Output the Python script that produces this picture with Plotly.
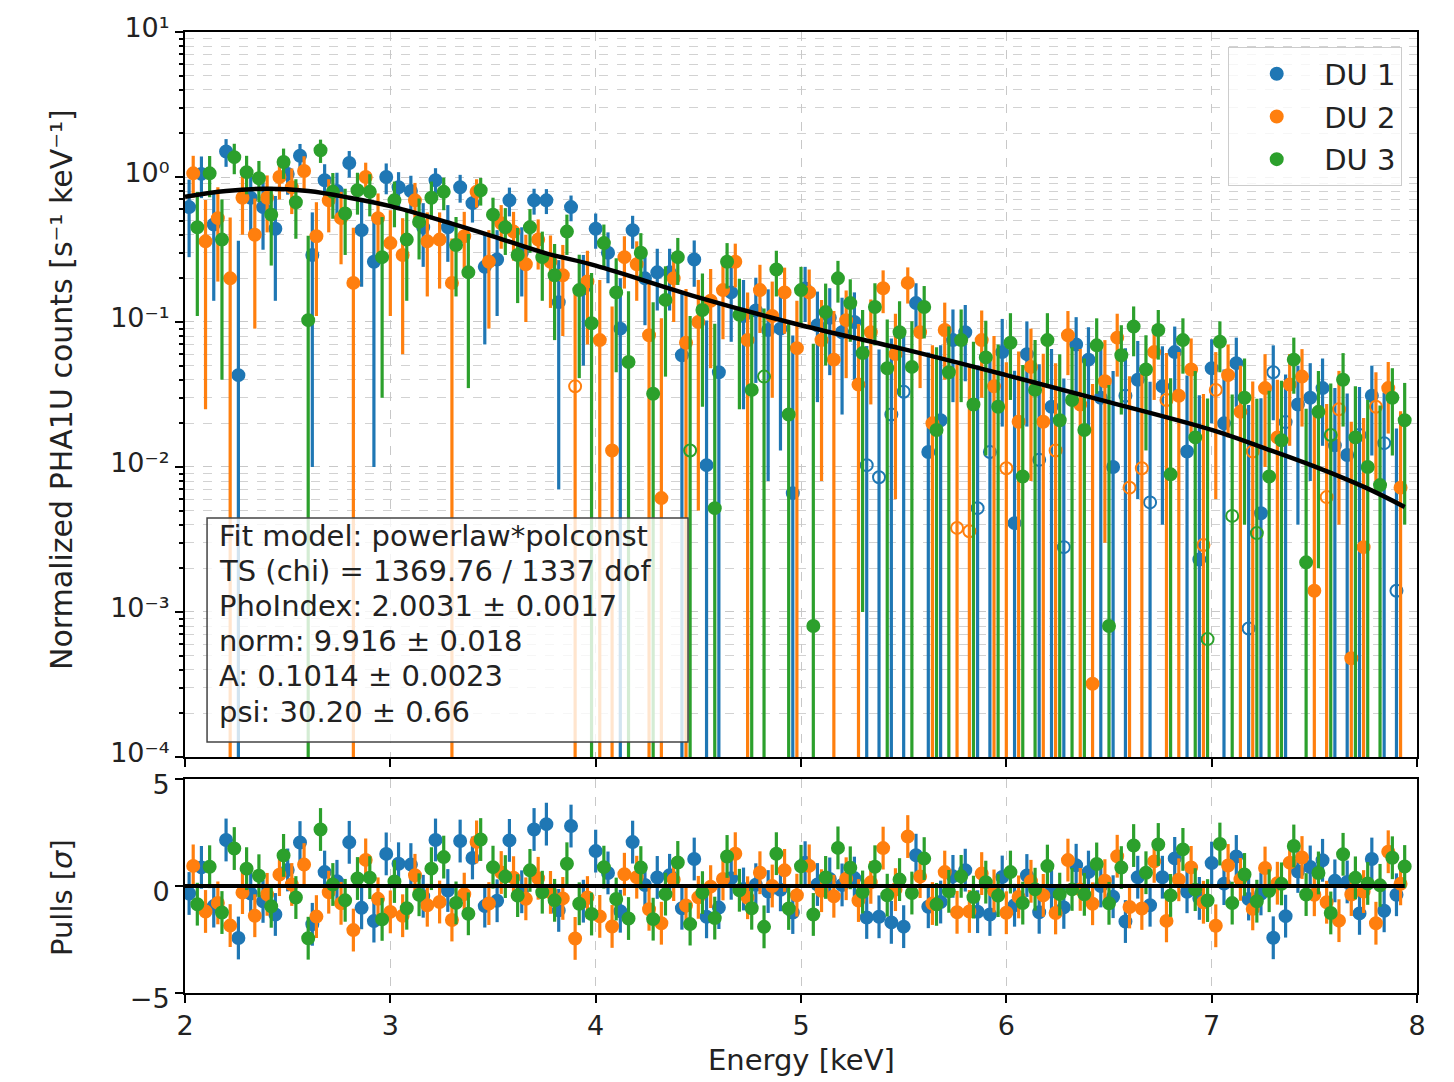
import numpy as np
import plotly.graph_objects as go

# ---------------- data ----------------
n_bins = 99
energy_du1 = np.round(2.02 + 0.06 * np.arange(n_bins), 2)
energy_du2 = np.round(2.04 + 0.06 * np.arange(n_bins), 2)
energy_du3 = np.round(2.06 + 0.06 * np.arange(n_bins), 2)

# normalized PHA1U rates (negative values are drawn as open circles at |value|)
rate_du1 = [
    0.62, 1.05, 0.47, 1.5, 0.043, 0.72, 0.62, 0.44, 1.05, 1.4,
    0.29, 0.95, 0.8, 1.25, 0.43, 0.26, 1.0, 0.85, 0.8, 0.45,
    0.95, 0.45, 0.85, 0.66, 0.24, 0.27, 0.69, 0.30, 0.69, 0.69,
    0.137, 0.62, 0.17, 0.44, 0.30, 0.09, 0.43, 0.20, 0.22, 0.22,
    0.059, 0.27, 0.0103, 0.045, 0.16, 0.11, 0.12, 0.088, 0.09, 0.0066,
    0.17, 0.095, 0.107, 0.085, 0.10, -0.0103, -0.0085, -0.023, -0.033, 0.135,
    0.0127, 0.021, 0.075, 0.085, -0.0052, -0.0127, 0.062, 0.0041, 0.06, -0.0112,
    0.026, -0.0028, 0.07, 0.055, 0.03, 0.010, -0.031, 0.04, -0.0057, 0.036,
    0.062, 0.0128, 0.0023, 0.048, 0.02, 0.052, -0.00077, 0.0048, -0.045, -0.0204,
    0.027, 0.03, 0.035, 0.0141, 0.0121, -0.0166, 0.031, -0.0146, -0.0014]

rate_du2 = [
    1.06, 0.36, 0.52, 0.2, 0.72, 0.4, 0.72, 1.0, 0.85, 1.1,
    0.39, 0.69, 0.52, 0.186, 1.0, 0.52, 0.35, 0.29, 0.69, 0.36,
    0.37, 0.186, 0.39, 0.79, 0.26, 0.48, 0.42, 0.25, 0.37, 0.26,
    0.21, -0.036, 0.19, 0.075, 0.013, 0.28, 0.25, 0.081, 0.0061, 0.2,
    0.072, 0.1, 0.14, 0.166, 0.26, 0.075, 0.166, 0.11, 0.16, 0.066,
    0.16, 0.075, 0.055, 0.103, 0.037, 0.085, 0.171, 0.06, 0.186, 0.085,
    0.02, 0.088, -0.0038, -0.0036, 0.075, 0.036, -0.0098, 0.0205, 0.049, 0.0205,
    -0.013, 0.081, 0.027, 0.00032, 0.039, 0.078, -0.0072, -0.0098, 0.062, -0.029,
    0.031, 0.047, -0.0029, -0.034, 0.043, 0.024, -0.0128, 0.035, 0.016, 0.037,
    0.042, 0.0014, -0.0062, -0.025, 0.00048, 0.0028, -0.026, 0.035, 0.0072]

rate_du3 = [
    0.45, 1.06, 0.37, 1.37, 1.08, 0.98, 0.55, 1.27, 0.67, 0.103,
    1.53, 0.79, 0.56, 0.81, 0.79, 0.28, 0.69, 0.37, 0.49, 0.72,
    0.79, 0.34, 0.22, 0.81, 0.55, 0.45, 0.29, 0.45, 0.28, 0.21,
    0.42, 0.166, 0.098, 0.35, 0.16, 0.053, 0.3, 0.032, 0.142, 0.28,
    -0.013, 0.121, 0.0052, 0.26, 0.112, 0.034, -0.042, 0.23, 0.023, 0.166,
    0.0008, 0.117, 0.2, 0.135, 0.061, 0.127, 0.048, 0.085, 0.049, 0.127,
    0.018, 0.045, 0.075, 0.027, 0.057, 0.026, 0.072, 0.0086, 0.034, 0.075,
    0.021, 0.029, 0.018, 0.069, 0.0008, 0.059, 0.093, 0.047, 0.088, 0.0089,
    0.075, 0.016, -0.00065, 0.073, -0.0046, 0.03, -0.0035, 0.0086, 0.0153, 0.055,
    0.0022, 0.024, -0.0166, 0.04, 0.016, 0.01, 0.0075, 0.03, 0.021]

# 1-sigma uncertainty of the rate in each bin
rate_err = [
    0.34, 0.335, 0.33, 0.325, 0.32, 0.31, 0.305, 0.30, 0.295, 0.29,
    0.28, 0.275, 0.27, 0.26, 0.255, 0.25, 0.24, 0.23, 0.22, 0.21,
    0.20, 0.19, 0.185, 0.175, 0.17, 0.16, 0.155, 0.15, 0.14, 0.135,
    0.13, 0.125, 0.12, 0.12, 0.115, 0.11, 0.11, 0.105, 0.10, 0.10,
    0.097, 0.095, 0.092, 0.09, 0.087, 0.085, 0.082, 0.08, 0.077, 0.074,
    0.07, 0.067, 0.064, 0.062, 0.06, 0.058, 0.056, 0.054, 0.052, 0.05,
    0.049, 0.048, 0.047, 0.046, 0.045, 0.044, 0.043, 0.042, 0.041, 0.04,
    0.039, 0.038, 0.038, 0.037, 0.036, 0.036, 0.035, 0.034, 0.033, 0.032,
    0.031, 0.030, 0.029, 0.028, 0.027, 0.026, 0.026, 0.025, 0.024, 0.023,
    0.023, 0.022, 0.021, 0.021, 0.020, 0.019, 0.019, 0.018, 0.017]

pull_du1 = [
    -0.35, 0.87, -0.94, 2.15, -2.43, -0.35, -0.72, -1.33, 0.75, 2.03,
    -1.79, 0.65, 0.22, 2.04, -1.02, -1.64, 1.5, 1.04, 1.0, -0.48,
    2.15, -0.21, 2.1, 1.31, -0.94, -0.69, 2.13, -0.27, 2.64, 2.89,
    -1.14, 2.8, -0.71, 1.63, 0.61, -1.18, 2.05, 0.05, 0.4, 0.5,
    -1.04, 1.26, -1.44, -1.01, 0.36, -0.14, 0.06, -0.26, -0.18, -1.24,
    1.09, 0.07, 0.33, 0.05, 0.37, -1.47, -1.44, -1.7, -1.9, 1.44,
    -0.97, -0.75, 0.45, 0.74, -1.2, -1.33, 0.42, -0.9, 0.49, -1.23,
    -0.26, -1.0, 0.97, 0.65, 0.0, -0.5, -1.66, 0.41, -0.9, 0.41,
    1.29, -0.27, -0.58, 1.07, 0.11, 1.38, -0.61, -0.37, -2.42, -1.41,
    0.68, 0.89, 1.2, 0.24, 0.19, -1.28, 1.26, -1.16, -0.41]

pull_du2 = [
    0.94, -1.19, -0.79, -1.85, -0.31, -1.39, -0.39, 0.53, 0.07, 1.0,
    -1.43, -0.29, -0.81, -2.06, 1.22, -0.6, -1.21, -1.39, 0.5, -0.9,
    -0.75, -1.59, -0.38, 2.06, -0.82, 0.63, 0.39, -0.6, 0.36, -0.3,
    -0.58, -2.45, -0.54, -1.42, -1.89, 0.55, 0.41, -1.09, -1.74, 0.3,
    -0.91, -0.53, -0.03, 0.33, 1.51, -0.55, 0.62, 0.0, 0.73, -0.43,
    0.94, -0.22, -0.48, 0.34, -0.68, 0.17, 1.77, -0.17, 2.31, 0.44,
    -0.82, 0.65, -1.23, -1.19, 0.58, -0.23, -1.25, -0.51, 0.22, -0.44,
    -1.26, 1.21, -0.16, -0.83, 0.25, 1.39, -0.98, -1.05, 1.15, -1.63,
    0.29, 0.87, -0.76, -1.86, 0.96, 0.31, -1.07, 0.84, 0.13, 1.09,
    1.33, -0.41, -0.76, -1.62, -0.4, -0.26, -1.74, 1.6, 0.1]

pull_du3 = [
    -0.85, 0.9, -1.24, 1.75, 0.81, 0.48, -0.95, 1.43, -0.54, -2.44,
    2.64, 0.07, -0.67, 0.35, 0.39, -1.56, 0.21, -1.04, -0.41, 0.81,
    1.35, -0.79, -1.3, 2.17, 0.88, 0.44, -0.45, 0.73, -0.29, -0.67,
    1.04, -0.83, -1.31, 0.88, -0.61, -1.52, 0.86, -1.55, -0.38, 1.1,
    -1.78, -0.31, -1.5, 1.38, -0.2, -1.04, -1.91, 1.51, -1.05, 0.92,
    -1.33, 0.4, 1.78, 0.85, -0.28, 0.9, -0.43, 0.3, -0.33, 1.28,
    -0.86, -0.25, 0.45, -0.52, 0.18, -0.45, 0.65, -0.8, -0.15, 0.93,
    -0.38, -0.16, -0.39, 1.03, -0.81, 0.86, 1.89, 0.62, 1.94, -0.44,
    1.71, -0.17, -0.68, 1.96, -0.8, 0.54, -0.71, -0.22, 0.1, 1.87,
    -0.4, 0.61, -1.26, 1.48, 0.38, 0.12, 0.03, 1.32, 0.91]

pull_err = [1.0] * n_bins

# fitted model curve (powerlaw*polconst folded)
model_energy = [2.0, 2.2, 2.4, 2.6, 2.8, 3.0, 3.25, 3.5, 3.75, 4.0, 4.5,
                5.0, 5.5, 6.0, 6.5, 7.0, 7.25, 7.5, 7.75, 7.94]
model_rate = [0.73, 0.80, 0.83, 0.80, 0.72, 0.63, 0.50, 0.39, 0.30, 0.245, 0.148,
              0.095, 0.065, 0.043, 0.028, 0.018, 0.0136, 0.0101, 0.0072, 0.0053]
model_pull = [0.0] * len(model_energy)

series_names = ["DU 1", "DU 2", "DU 3"]
series_colors = ["#1f77b4", "#ff7f0e", "#2ca02c"]

fit_text = [
    "Fit model: powerlaw*polconst",
    "TS (chi) = 1369.76 / 1337 dof",
    "PhoIndex: 2.0031 ± 0.0017",
    "norm: 9.916 ± 0.018",
    "A: 0.1014 ± 0.0023",
    "psi: 30.20 ± 0.66",
]

y_tickvals = [1e-4, 1e-3, 1e-2, 1e-1, 1e0, 1e1]
y_ticktext = ["10⁻⁴", "10⁻³", "10⁻²", "10⁻¹", "10⁰", "10¹"]
x_tickvals = [2, 3, 4, 5, 6, 7, 8]
pull_tickvals = [-5, 0, 5]
pull_ticktext = ["−5", "0", "5"]

# ---------------- figure ----------------
fig = go.Figure()

energies = [energy_du1, energy_du2, energy_du3]
rates = [rate_du1, rate_du2, rate_du3]
pulls = [pull_du1, pull_du2, pull_du3]

for name, e, r, c in zip(series_names, energies, rates, series_colors):
    fig.add_trace(go.Scatter(
        x=e, y=[abs(v) for v in r], mode="markers", name=name,
        marker=dict(size=12, color=c,
                    symbol=["circle" if v > 0 else "circle-open" for v in r],
                    line=dict(width=2, color=c)),
        error_y=dict(type="data", array=rate_err, thickness=3.2, width=0, color=c),
        xaxis="x", yaxis="y", legendgroup=name))

fig.add_trace(go.Scatter(
    x=model_energy, y=model_rate, mode="lines", showlegend=False,
    line=dict(color="black", width=4.5, shape="spline"), xaxis="x", yaxis="y"))

for name, e, p, c in zip(series_names, energies, pulls, series_colors):
    fig.add_trace(go.Scatter(
        x=e, y=p, mode="markers", name=name, showlegend=False,
        marker=dict(size=12, color=c, line=dict(width=2, color=c)),
        error_y=dict(type="data", array=pull_err, thickness=3.2, width=0, color=c),
        xaxis="x2", yaxis="y2", legendgroup=name))

fig.add_trace(go.Scatter(
    x=model_energy, y=model_pull, mode="lines", showlegend=False,
    line=dict(color="black", width=4), xaxis="x2", yaxis="y2"))

grid_color = "#c8c8c8"
text_color = "#222222"
tick_font = dict(family="DejaVu Sans", size=27, color=text_color)
axis_common = dict(showline=True, linecolor="black", linewidth=2, mirror=True,
                   ticks="outside", ticklen=8, tickwidth=2, tickcolor="black",
                   tickfont=tick_font, zeroline=False)

fig.update_layout(
    width=1454, height=1082,
    margin=dict(l=185, r=37, t=32, b=89),
    paper_bgcolor="white", plot_bgcolor="white",
    font=dict(family="DejaVu Sans", size=27, color=text_color),
    xaxis=dict(domain=[0, 1], anchor="y", range=[2, 8], tickvals=x_tickvals,
               showticklabels=False, showgrid=True, gridcolor=grid_color,
               griddash="dash", gridwidth=1, **axis_common),
    yaxis=dict(domain=[0.2456, 1], anchor="x", type="log", range=[-4, 1],
               tickvals=y_tickvals, ticktext=y_ticktext, ticklabelshift=-4,
               showgrid=True, gridcolor=grid_color, griddash="dash", gridwidth=1,
               minor=dict(ticks="outside", ticklen=4, tickwidth=1.5, tickcolor="black",
                          dtick="D1", showgrid=True, gridcolor="#d2d2d2",
                          griddash="dash", gridwidth=1),
               **axis_common),
    xaxis2=dict(domain=[0, 1], anchor="y2", range=[2, 8], tickvals=x_tickvals,
                showgrid=True, gridcolor=grid_color, griddash="dash", gridwidth=1,
                **axis_common),
    yaxis2=dict(domain=[0, 0.2227], anchor="x2", range=[-5, 5],
                tickvals=pull_tickvals, ticktext=pull_ticktext, ticklabelshift=6,
                showgrid=False, **axis_common),
    legend=dict(x=0.988, y=0.984, xanchor="right", yanchor="top",
                bgcolor="rgba(255,255,255,0.8)", bordercolor="#cccccc", borderwidth=1,
                font=dict(family="DejaVu Sans", size=29, color=text_color),
                itemwidth=85, tracegroupgap=2),
    showlegend=True,
)

# fit-result box
fig.add_shape(type="rect", xref="paper", yref="paper",
              x0=0.0179, x1=0.4083, y0=0.2612, y1=0.4943, layer="above",
              fillcolor="rgba(255,255,255,0.8)", line=dict(color="#444444", width=1.5))
line_centers_px = [536, 571, 606, 641, 676, 712]
for txt, yc in zip(fit_text, line_centers_px):
    fig.add_annotation(
        xref="paper", yref="paper", x=(217 - 185) / 1232, y=(993 - yc) / 961,
        xanchor="left", yanchor="middle", text=txt, showarrow=False,
        font=dict(family="DejaVu Sans", size=29, color=text_color))

fig.add_annotation(
    xref="paper", yref="paper", x=-0.0998, y=0.6275, xanchor="center", yanchor="middle",
    text="Normalized PHA1U counts [s⁻¹ keV⁻¹]", textangle=-90,
    showarrow=False, font=dict(family="DejaVu Sans", size=30, color=text_color))

fig.add_annotation(
    xref="paper", yref="paper", x=-0.0998, y=0.0989, xanchor="center", yanchor="middle",
    text="Pulls [<i>σ</i>]", textangle=-90,
    showarrow=False, font=dict(family="DejaVu Sans", size=29, color=text_color))

fig.add_annotation(
    xref="paper", yref="paper", x=0.5, y=-0.0697, xanchor="center", yanchor="middle",
    text="Energy [keV]", showarrow=False,
    font=dict(family="DejaVu Sans", size=29, color=text_color))

fig.write_html("out.html")
